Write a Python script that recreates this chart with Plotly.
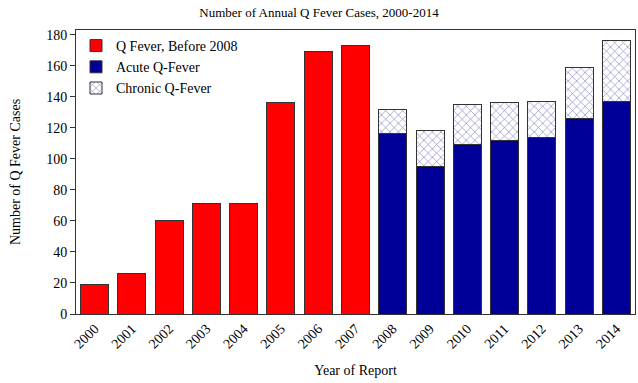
import plotly.graph_objects as go

years = [str(y) for y in range(2000, 2015)]
before_years = years[:8]
before_vals = [19, 26, 60, 71, 71, 136, 169, 173]
after_years = years[8:]
acute_vals = [116, 95, 109, 112, 114, 126, 137]
chronic_vals = [16, 23, 26, 24, 23, 33, 39]

FONT = "Liberation Serif"
line = dict(color="#333333", width=1)

fig = go.Figure()
fig.add_trace(go.Bar(x=before_years, y=before_vals, name="Q Fever, Before 2008",
                     marker=dict(color="#ff0000", line=line)))
fig.add_trace(go.Bar(x=after_years, y=acute_vals, name="Acute Q-Fever",
                     marker=dict(color="#000099", line=line)))
fig.add_trace(go.Bar(x=after_years, y=chronic_vals, name="Chronic Q-Fever",
                     marker=dict(color="white", line=line,
                                 pattern=dict(shape="x", fgcolor="#000080", bgcolor="white",
                                              size=6, solidity=0.2))))

fig.update_layout(
    barmode="stack", bargap=0.25,
    width=638, height=383,
    margin=dict(l=76, r=3, t=30, b=69),
    paper_bgcolor="white", plot_bgcolor="white",
    font=dict(family=FONT, size=14, color="black"),
    title=dict(text="Number of Annual Q Fever Cases, 2000-2014", x=0.5, xanchor="center",
               y=0.968, yanchor="middle", font=dict(family=FONT, size=13)),
    legend=dict(x=0.0, y=1.0, xanchor="left", yanchor="top", bgcolor="rgba(0,0,0,0)",
                font=dict(family=FONT, size=14), tracegroupgap=0, traceorder="normal",
                itemwidth=30),
    showlegend=True,
)
fig.update_xaxes(categoryorder="array", categoryarray=years, tickangle=-45,
                 tickfont=dict(family=FONT, size=14),
                 showline=True, linecolor="#333333", mirror=True, showgrid=False,
                 ticks="", title=dict(text="Year of Report", standoff=14,
                                      font=dict(family=FONT, size=14)))
fig.update_yaxes(range=[0, 183], dtick=20, ticks="outside", ticklen=5, tickcolor="#333333",
                 tickfont=dict(family=FONT, size=14),
                 showline=True, linecolor="#333333", mirror=True, showgrid=False, zeroline=False,
                 title=dict(text="Number of Q Fever Cases", standoff=22,
                            font=dict(family=FONT, size=14)))

fig.write_html("out.html", config={"displayModeBar": False},
               post_script="document.body.style.margin='0px';")
